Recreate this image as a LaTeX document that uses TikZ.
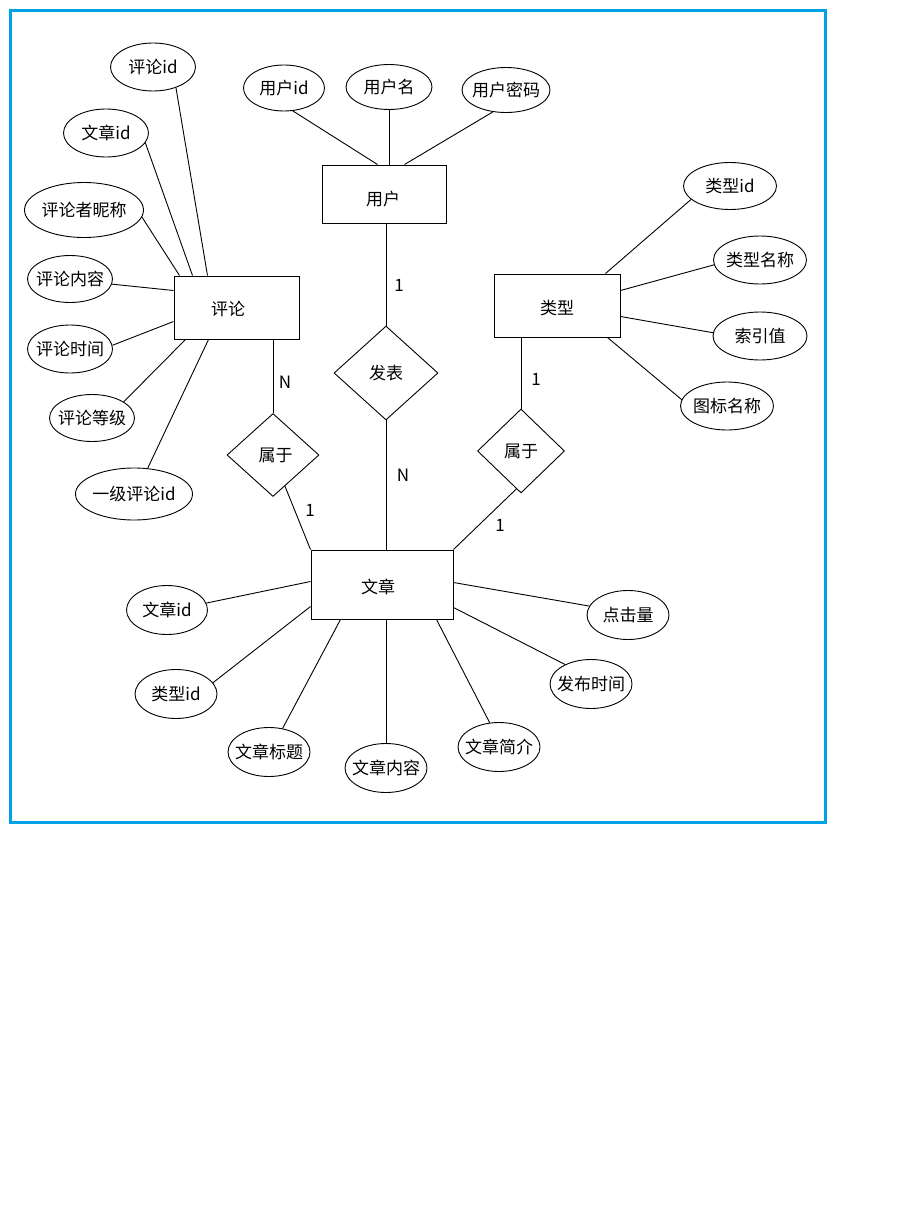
\documentclass[tikz,border=0pt]{standalone}
\usepackage{fontspec}
\setmainfont{Noto Sans CJK SC}
\usetikzlibrary{shapes.geometric}
\definecolor{framecol}{RGB}{0,162,232}
% text that does not widen its shape
\newcommand\zwtext[1]{\makebox[0pt]{#1}}
\begin{document}
\begin{tikzpicture}[x=1pt,y=-1pt,
  every node/.style={font=\fontsize{17}{20}\selectfont},
  ent/.style 2 args={draw, rectangle, inner sep=0pt, line width=1pt,
    minimum width=#1pt, minimum height=#2pt},
  attr/.style 2 args={draw, ellipse, inner sep=0pt, line width=0.9pt,
    minimum width=#1pt, minimum height=#2pt},
  rel/.style 2 args={draw, diamond, inner sep=0pt, line width=0.9pt,
    minimum width=#1pt, minimum height=#2pt},
  link/.style={line width=0.9pt},
  card/.style={inner sep=0pt}]
\useasboundingbox (0,0) rectangle (915,1220);
\fill[white] (0,0) rectangle (915,1220);
% outer frame
\draw[line width=3pt, framecol] (10.5,10.5) rectangle (825.5,822.5);

% entities
\node[ent={124}{58}] (user) at (384,194) {};
\node[ent={125}{63}] (cmt)  at (236.5,307.5) {};
\node[ent={126}{63}] (typ)  at (557,305.5) {};
\node[ent={142}{69}] (art)  at (382,584.5) {};
\node (userT) at ([shift={(-1,5)}]user.center) {用户};
\node (cmtT)  at ([shift={(-8.5,1.5)}]cmt.center) {评论};
\node (typT)  at ([shift={(0,2.5)}]typ.center) {类型};
\node (artT)  at ([shift={(-4,2.5)}]art.center) {文章};

% relationships
\node[rel={104}{94}] (pub) at (386,373) {\zwtext{发表}};
\node[rel={92}{83}]  (belL) at (273,455) {\zwtext{\raisebox{-2pt}{\hspace*{5pt}属于}}};
\node[rel={87}{84}]  (belR) at (521,451) {\zwtext{\raisebox{-2pt}{属于}}};

% attributes of 评论
\node[attr={85}{48}]  (c1) at (153,67)  {\zwtext{评论id}};
\node[attr={85}{48}]  (c2) at (106,133) {\zwtext{文章id}};
\node[attr={119}{55}] (c3) at (84,210)  {\zwtext{评论者昵称}};
\node[attr={85}{47}]  (c4) at (70,279)  {\zwtext{评论内容}};
\node[attr={85}{48}]  (c5) at (70,349)  {\zwtext{评论时间}};
\node[attr={85}{47}]  (c6) at (92,418)  {\zwtext{评论等级}};
\node[attr={117}{52}] (c7) at (134,494) {\zwtext{一级评论id}};

% attributes of 用户
\node[attr={81}{46}] (u1) at (284,88)  {\zwtext{用户id}};
\node[attr={86}{45}] (u2) at (389,87)  {\zwtext{用户名}};
\node[attr={88}{45}] (u3) at (506,90)  {\zwtext{用户密码}};

% attributes of 类型
\node[attr={93}{47}] (t1) at (730,186) {\zwtext{类型id}};
\node[attr={93}{48}] (t2) at (760,260) {\zwtext{类型名称}};
\node[attr={94}{48}] (t3) at (760,336) {\zwtext{索引值}};
\node[attr={93}{48}] (t4) at (727,406) {\zwtext{图标名称}};

% attributes of 文章
\node[attr={81}{49}] (a1) at (167,610) {\zwtext{文章id}};
\node[attr={82}{49}] (a2) at (176,694) {\zwtext{类型id}};
\node[attr={82}{49}] (a3) at (269,752) {\zwtext{文章标题}};
\node[attr={82}{49}] (a4) at (386,768) {\zwtext{文章内容}};
\node[attr={82}{49}] (a5) at (499,747) {\zwtext{文章简介}};
\node[attr={82}{49}] (a6) at (591,684) {\zwtext{发布时间}};
\node[attr={82}{49}] (a7) at (628,615) {\zwtext{点击量}};

% attribute links: 评论
\draw[link] (c1.-42) -- ([xshift=34pt]cmt.north west);
\draw[link] (c2.-14) -- ([xshift=19pt]cmt.north west);
\draw[link] (c3.-7)  -- ([xshift=6pt]cmt.north west);
\draw[link] (c4.-7)  -- ([yshift=-15pt]cmt.north west);
\draw[link] (c5.5)   -- ([yshift=-46pt]cmt.north west);
\draw[link] (c6.27)  -- ([xshift=12pt]cmt.south west);
\draw[link] (c7.62)  -- ([xshift=35pt]cmt.south west);

% attribute links: 用户
\draw[link] (u1.-69) -- ([xshift=56pt]user.north west);
\draw[link] (u2.south) -- (u2.south |- user.north);
\draw[link] (u3.-121) -- ([xshift=83pt]user.north west);

% attribute links: 类型
\draw[link] (t1.-161) -- ([xshift=112pt]typ.north west);
\draw[link] (t2.-174) -- ([yshift=-17pt]typ.north east);
\draw[link] (t3.176)  -- ([yshift=-43pt]typ.north east);
\draw[link] (t4.172)  -- ([xshift=-13pt]typ.south east);

% attribute links: 文章
\draw[link] (a1.10)  -- ([yshift=-32pt]art.north west);
\draw[link] (a2.17)  -- ([yshift=-57pt]art.north west);
\draw[link] (a3.60)  -- ([xshift=30pt]art.south west);
\draw[link] (a4.north) -- (a4.north |- art.south);
\draw[link] (a5.111) -- ([xshift=126pt]art.south west);
\draw[link] (a6.143) -- ([yshift=-58pt]art.north east);
\draw[link] (a7.167) -- ([yshift=-33pt]art.north east);

% relationship links
\draw[link] (pub.north |- user.south) -- (pub.north);
\draw[link] (pub.south) -- (pub.south |- art.north);
\draw[link] (belL.north |- cmt.south) -- (belL.north);
\draw[link] (belL.-69) -- (art.north west);
\draw[link] (belR.north |- typ.south) -- (belR.north);
\draw[link] (belR.-97) -- (art.north east);

% cardinalities
\node[card] (k1) at (399,285) {1};
\node[card] (k2) at (403,475) {N};
\node[card] (k3) at (285,382) {N};
\node[card] (k4) at (310,510) {1};
\node[card] (k5) at (536,379) {1};
\node[card] (k6) at (500,525) {1};
\end{tikzpicture}
\end{document}
